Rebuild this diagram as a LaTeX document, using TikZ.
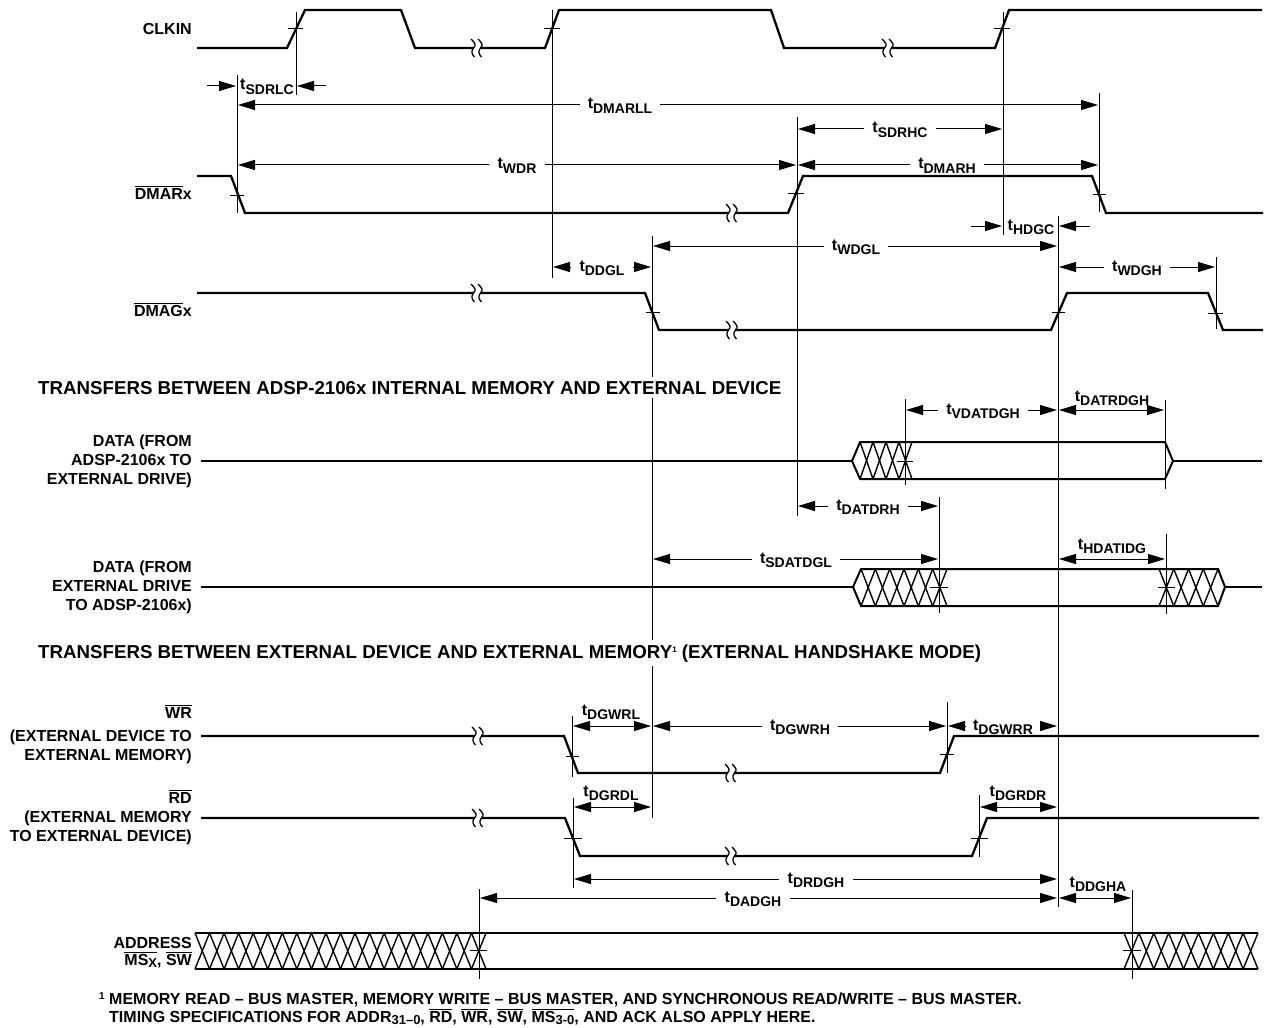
\documentclass[tikz,border=0pt]{standalone}
\usepackage{fontspec}
\setmainfont{Liberation Sans}
\usetikzlibrary{arrows.meta}
\tikzstyle{sigline}=[line width=2.3pt, line join=miter]
\tikzstyle{busline}=[line width=2pt]
\tikzstyle{hatchline}=[line width=1.4pt]
\tikzstyle{guide}=[line width=1pt]
\tikzstyle{crossbar}=[line width=1pt]
\tikzstyle{dim}=[line width=1pt, {Triangle[length=17pt,width=10pt]}-{Triangle[length=17pt,width=10pt]}, shorten <=1pt, shorten >=1pt]
\tikzstyle{dimr}=[line width=1pt, -{Triangle[length=17pt,width=10pt]}, shorten >=1pt]
\tikzstyle{sigfont}=[inner sep=0pt, align=right, anchor=east, font=\bfseries\fontsize{16}{19}\selectfont]
\tikzstyle{sigbar}=[inner sep=0pt, anchor=base east, font=\bfseries\fontsize{16}{19}\selectfont]
\tikzstyle{headfont}=[inner xsep=0pt, inner ysep=4pt, fill=white, anchor=base west, font=\bfseries\fontsize{18.7}{22}\selectfont]
\tikzstyle{notefont}=[inner sep=0pt, anchor=base west, font=\bfseries\fontsize{16}{19}\selectfont]
\tikzstyle{tlab}=[inner xsep=8pt, inner ysep=0pt, text height=12pt, text depth=4pt, font=\bfseries\fontsize{16}{16}\selectfont]
\newcommand{\tm}[1]{t\raisebox{-4.5pt}{\fontsize{14}{14}\selectfont #1}}
\newcommand{\sbs}[1]{\raisebox{-2.5pt}{\fontsize{13}{13}\selectfont #1}}
\newcommand{\ovl}[1]{$\overline{\mbox{#1}}$}
\newcommand{\brk}[2]{\begin{scope}[shift={(#1,#2)}]
  \fill[white] (-3,-4) rectangle (3,4);
  \draw[line width=1.3pt] (-6,-9) .. controls (-2,-5) and (-0.5,-3) .. (-3.5,0) .. controls (-6,3) and (-5.5,6) .. (-2.5,9);
  \draw[line width=1.3pt] (1,-9) .. controls (5,-5) and (6.5,-3) .. (3.5,0) .. controls (1,3) and (1.5,6) .. (4.5,9);
\end{scope}}
\newcommand{\hatch}[5]{\foreach \i in {1,...,#3} {
  \draw[hatchline] ({#1+(\i-1)*(#2-#1)/#3},#4) -- ({#1+\i*(#2-#1)/#3},#5);
  \draw[hatchline] ({#1+\i*(#2-#1)/#3},#4) -- ({#1+(\i-1)*(#2-#1)/#3},#5);
}}

\begin{document}
\begin{tikzpicture}[x=1pt, y=-1pt]
\useasboundingbox (0,0) rectangle (1265,1027);

% guides
\coordinate (gCKA) at (296,12);   \coordinate (gCKAe) at (296,95);
\coordinate (gCKB) at (552,10);   \coordinate (gCKBe) at (552,278);
\coordinate (gCKC) at (1003,12);  \coordinate (gCKCe) at (1003,235);
\coordinate (gDRA) at (237,75);   \coordinate (gDRAe) at (237,213);
\coordinate (gDRB) at (797,117);  \coordinate (gDRBe) at (797,516);
\coordinate (gDRC) at (1099,93);  \coordinate (gDRCe) at (1099,212);
\coordinate (gDGA) at (652,236);  \coordinate (gDGAe) at (652,818);
\coordinate (gDGB) at (1058,216); \coordinate (gDGBe) at (1058,907);
\coordinate (gDGC) at (1216,257); \coordinate (gDGCe) at (1216,329);
\coordinate (gVD) at (905,399);   \coordinate (gVDe) at (905,485);
\coordinate (gTR) at (1165,400);  \coordinate (gTRe) at (1165,489);
\coordinate (gSD) at (939,497);   \coordinate (gSDe) at (939,613);
\coordinate (gHD) at (1166,534);  \coordinate (gHDe) at (1166,614);
\coordinate (gWL) at (572,716);   \coordinate (gWLe) at (572,777);
\coordinate (gWR) at (947,702);   \coordinate (gWRe) at (947,773);
\coordinate (gRL) at (573,798);   \coordinate (gRLe) at (573,888);
\coordinate (gRR) at (979,795);   \coordinate (gRRe) at (979,857);
\coordinate (gAL) at (479,889);   \coordinate (gALe) at (479,979);
\coordinate (gAR) at (1132,890);  \coordinate (gARe) at (1132,979);

\draw[guide] (gCKA) -- (gCKAe);
\draw[guide] (gCKB) -- (gCKBe);
\draw[guide] (gCKC) -- (gCKCe);
\draw[guide] (gDRA) -- (gDRAe);
\draw[guide] (gDRB) -- (gDRBe);
\draw[guide] (gDRC) -- (gDRCe);
\draw[guide] (gDGA) -- (gDGAe);
\draw[guide] (gDGB) -- (gDGBe);
\draw[guide] (gDGC) -- (gDGCe);
\draw[guide] (gVD) -- (gVDe);
\draw[guide] (gTR) -- (gTRe);
\draw[guide] (gSD) -- (gSDe);
\draw[guide] (gHD) -- (gHDe);
\draw[guide] (gWL) -- (gWLe);
\draw[guide] (gWR) -- (gWRe);
\draw[guide] (gRL) -- (gRLe);
\draw[guide] (gRR) -- (gRRe);
\draw[guide] (gAL) -- (gALe);
\draw[guide] (gAR) -- (gARe);

% signals
\draw[sigline] (197,48) -- (287,48) -- (305,10) -- (401,10) -- (415,48) -- (545,48) -- (559,10) -- (771,10) -- (784,48) -- (995,48) -- (1009,10) -- (1262,10);
\draw[sigline] (197,176) -- (231,176) -- (245,213) -- (788,213) -- (803,176) -- (1092,176) -- (1106,213) -- (1263,213);
\draw[sigline] (197,293) -- (645,293) -- (659,330) -- (1051,330) -- (1067,293) -- (1208,293) -- (1223,330) -- (1263,330);
\draw[sigline] (201,736) -- (564,736) -- (578,773) -- (940,773) -- (954,736) -- (1259,736);
\draw[sigline] (201,818) -- (565,818) -- (580,856) -- (972,856) -- (987,818) -- (1259,818);
\draw[busline] (201,461) -- (852,461);
\draw[busline] (852,461) -- (860,442) -- (1165,442) -- (1173,461) -- (1165,479) -- (860,479) -- cycle;
\draw[busline] (1173,461) -- (1262,461);
\draw[busline] (201,587) -- (853,587);
\draw[busline] (853,587) -- (861,569) -- (1218,569) -- (1225,587) -- (1218,606) -- (861,606) -- cycle;
\draw[sigline] (1225,587) -- (1262,587);
\draw[busline] (195,933) -- (1258,933);
\draw[busline] (195,969) -- (1258,969);
\hatch{860}{912}{4}{442}{479}
\hatch{861}{947}{6}{569}{606}
\hatch{1159}{1218}{4}{569}{606}
\hatch{195}{486}{20}{933}{969}
\hatch{1124}{1258}{9}{933}{969}

% breaks
\brk{477}{48}
\brk{888}{48}
\brk{732}{213}
\brk{477}{293}
\brk{732}{330}
\brk{478}{736}
\brk{731}{773}
\brk{478}{818}
\brk{731}{856}

% crossbars
\draw[crossbar] (288,29) -- (303,29);
\draw[crossbar] (544,29) -- (560,29);
\draw[crossbar] (994,29) -- (1010,29);
\draw[crossbar] (230,195) -- (244,195);
\draw[crossbar] (788,193) -- (804,193);
\draw[crossbar] (1093,194) -- (1106,194);
\draw[crossbar] (646,312) -- (660,312);
\draw[crossbar] (1052,312) -- (1065,312);
\draw[crossbar] (1208,313) -- (1223,313);
\draw[crossbar] (897,461) -- (913,461);
\draw[crossbar] (930,587) -- (948,587);
\draw[crossbar] (1158,587) -- (1175,587);
\draw[crossbar] (566,756) -- (579,756);
\draw[crossbar] (940,754) -- (954,754);
\draw[crossbar] (564,838) -- (582,838);
\draw[crossbar] (971,838) -- (988,838);
\draw[crossbar] (470,950) -- (487,950);
\draw[crossbar] (1123,950) -- (1141,950);

% signal names
\node[sigbar] (nCLK) at (192,35) {CLKIN};
\node[sigbar] (nDMR) at (192,199) {\ovl{DMAR}x};
\node[sigbar] (nDMG) at (192,316) {\ovl{DMAG}x};
\node[sigfont] (nDT1) at (192,461) {DATA (FROM\\ADSP-2106x TO\\EXTERNAL DRIVE)};
\node[sigfont] (nDT2) at (192,587) {DATA (FROM\\EXTERNAL DRIVE\\TO ADSP-2106x)};
\node[sigbar] (nWR) at (192,718) {\ovl{WR}};
\node[sigfont] (nWRt) at (192,747) {(EXTERNAL DEVICE TO\\EXTERNAL MEMORY)};
\node[sigbar] (nRD) at (192,803) {\ovl{RD}};
\node[sigfont] (nRDt) at (192,828) {(EXTERNAL MEMORY\\TO EXTERNAL DEVICE)};
\node[sigbar] (nADR) at (192,948) {ADDRESS};
\node[sigbar] (nMS) at (192,965) {\ovl{MS\sbs{X}}, \ovl{SW}};

\node[headfont] (hInt) at (38,394) {TRANSFERS BETWEEN ADSP-2106x INTERNAL MEMORY AND EXTERNAL DEVICE};
\node[headfont] (hExt) at (38,658) {TRANSFERS BETWEEN EXTERNAL DEVICE AND EXTERNAL MEMORY\raisebox{6pt}{\fontsize{8}{8}\selectfont 1} (EXTERNAL HANDSHAKE MODE)};
\node[notefont] (fn1) at (99,1004) {\makebox[10pt][l]{\raisebox{5pt}{\fontsize{10}{10}\selectfont 1}}MEMORY READ -- BUS MASTER, MEMORY WRITE -- BUS MASTER, AND SYNCHRONOUS READ/WRITE -- BUS MASTER.};
\node[notefont] (fn2) at (109,1022) {TIMING SPECIFICATIONS FOR ADDR\sbs{31--0}, \ovl{RD}, \ovl{WR}, \ovl{SW}, \ovl{MS\sbs{3-0}}, AND ACK ALSO APPLY HERE.};

% timing labels on the line
\node[tlab] (lDMARLL) at (620,105) {\tm{DMARLL}};
\node[tlab] (lSDRHC) at (900,129) {\tm{SDRHC}};
\node[tlab] (lWDR) at (517,165) {\tm{WDR}};
\node[tlab] (lDMARH) at (947,165) {\tm{DMARH}};
\node[tlab] (lWDGL) at (856,246) {\tm{WDGL}};
\node[tlab] (lDDGL) at (602,267) {\tm{DDGL}};
\node[tlab] (lWDGH) at (1137,267) {\tm{WDGH}};
\node[tlab] (lVDATDGH) at (983,410) {\tm{VDATDGH}};
\node[tlab] (lDATDRH) at (868,506) {\tm{DATDRH}};
\node[tlab] (lSDATDGL) at (796,559) {\tm{SDATDGL}};
\node[tlab] (lDGWRH) at (800,726) {\tm{DGWRH}};
\node[tlab] (lDGWRR) at (1003,726) {\tm{DGWRR}};
\node[tlab] (lDRDGH) at (816,879) {\tm{DRDGH}};
\node[tlab] (lDADGH) at (753,898) {\tm{DADGH}};

\draw[dimr] (lDMARLL) -- (lDMARLL -| gDRA);
\draw[dimr] (lDMARLL) -- (lDMARLL -| gDRC);
\draw[dimr] (lSDRHC) -- (lSDRHC -| gDRB);
\draw[dimr] (lSDRHC) -- (lSDRHC -| gCKC);
\draw[dimr] (lWDR) -- (lWDR -| gDRA);
\draw[dimr] (lWDR) -- (lWDR -| gDRB);
\draw[dimr] (lDMARH) -- (lDMARH -| gDRB);
\draw[dimr] (lDMARH) -- (lDMARH -| gDRC);
\draw[dimr] (lWDGL) -- (lWDGL -| gDGA);
\draw[dimr] (lWDGL) -- (lWDGL -| gDGB);
\draw[dimr] (lDDGL) -- (lDDGL -| gCKB);
\draw[dimr] (lDDGL) -- (lDDGL -| gDGA);
\draw[dimr] (lWDGH) -- (lWDGH -| gDGB);
\draw[dimr] (lWDGH) -- (lWDGH -| gDGC);
\draw[dimr] (lVDATDGH) -- (lVDATDGH -| gVD);
\draw[dimr] (lVDATDGH) -- (lVDATDGH -| gDGB);
\draw[dimr] (lDATDRH) -- (lDATDRH -| gDRB);
\draw[dimr] (lDATDRH) -- (lDATDRH -| gSD);
\draw[dimr] (lSDATDGL) -- (lSDATDGL -| gDGA);
\draw[dimr] (lSDATDGL) -- (lSDATDGL -| gSD);
\draw[dimr] (lDGWRH) -- (lDGWRH -| gDGA);
\draw[dimr] (lDGWRH) -- (lDGWRH -| gWR);
\draw[dimr] (lDGWRR) -- (lDGWRR -| gWR);
\draw[dimr] (lDGWRR) -- (lDGWRR -| gDGB);
\draw[dimr] (lDRDGH) -- (lDRDGH -| gRL);
\draw[dimr] (lDRDGH) -- (lDRDGH -| gDGB);
\draw[dimr] (lDADGH) -- (lDADGH -| gAL);
\draw[dimr] (lDADGH) -- (lDADGH -| gDGB);

% timing labels above the line
\node[tlab] (lDATRDGH) at (1112,397) {\tm{DATRDGH}};
\node[tlab] (lHDATIDG) at (1112,545) {\tm{HDATIDG}};
\node[tlab] (lDGWRL) at (611,711) {\tm{DGWRL}};
\node[tlab] (lDGRDL) at (611,792) {\tm{DGRDL}};
\node[tlab] (lDGRDR) at (1018,792) {\tm{DGRDR}};
\node[tlab] (lDDGHA) at (1098,883) {\tm{DDGHA}};

\coordinate (aDATRDGH) at (1112,410);
\coordinate (aHDATIDG) at (1112,559);
\coordinate (aDGWRL) at (611,726);
\coordinate (aDGRDL) at (611,807);
\coordinate (aDGRDR) at (1018,807);
\coordinate (aDDGHA) at (1098,898);
\draw[dim] (aDATRDGH -| gDGB) -- (aDATRDGH -| gTR);
\draw[dim] (aHDATIDG -| gDGB) -- (aHDATIDG -| gHD);
\draw[dim] (aDGWRL -| gWL) -- (aDGWRL -| gDGA);
\draw[dim] (aDGRDL -| gRL) -- (aDGRDL -| gDGA);
\draw[dim] (aDGRDR -| gRR) -- (aDGRDR -| gDGB);
\draw[dim] (aDDGHA -| gDGB) -- (aDDGHA -| gAR);

% labels between outside arrows
\node[tlab] (lSDRLC) at (267,86) {\tm{SDRLC}};
\node[tlab] (lHDGC) at (1031,226) {\tm{HDGC}};
\coordinate (aSDRLCl) at (207,86);
\coordinate (aSDRLCr) at (326,86);
\coordinate (aHDGCl) at (971,226);
\coordinate (aHDGCr) at (1090,226);
\draw[dimr] (aSDRLCl) -- (aSDRLCl -| gDRA);
\draw[dimr] (aSDRLCr) -- (aSDRLCr -| gCKA);
\draw[dimr] (aHDGCl) -- (aHDGCl -| gCKC);
\draw[dimr] (aHDGCr) -- (aHDGCr -| gDGB);

\end{tikzpicture}
\end{document}
